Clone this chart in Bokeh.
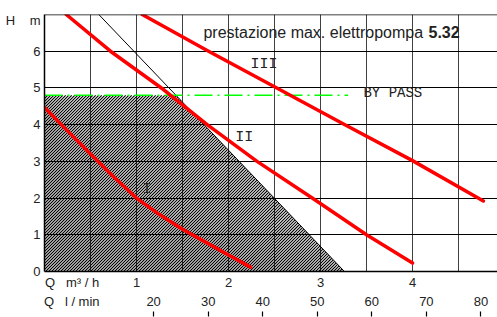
from bokeh.plotting import figure
from bokeh.models import Range1d, LinearAxis, FixedTicker, Label, Span, CustomLabelingPolicy
from bokeh.embed import file_html
from bokeh.resources import INLINE

# ---- data (Q in m3/h, H in m) ----
q_curve_I = [0.0, 0.25, 0.5, 0.75, 1.0, 1.25, 1.5, 1.75, 2.0, 2.24]
h_curve_I = [4.47, 3.83, 3.2, 2.58, 2.0, 1.55, 1.15, 0.8, 0.45, 0.12]

q_curve_II = [0.236, 0.717, 1.297, 1.768, 2.31, 2.91, 3.5, 4.0]
h_curve_II = [7.0, 6.0, 4.95, 4.0, 3.0, 2.0, 1.0, 0.23]

q_curve_III = [1.062, 1.768, 2.51, 3.24, 4.0, 4.77]
h_curve_III = [7.0, 6.02, 5.02, 4.03, 3.02, 1.92]

q_limit = [0.59, 3.26]
h_limit = [7.0, 0.0]

q_area = [0.0, 0.0, 1.429, 3.26]
h_area = [0.0, 4.8, 4.8, 0.0]

q_bypass = [0.0, 3.30]
h_bypass = [4.8, 4.8]

y_ticks = [0, 1, 2, 3, 4, 5, 6]
x_ticks = [1, 2, 3, 4]
lmin_ticks = [20, 30, 40, 50, 60, 70, 80]
m3h_per_lmin = 0.0593

NB = "\u00a0"
y_title = "H" + NB * 4 + "m"
x_title_m3h = "Q" + NB * 3 + "m³" + NB + "/" + NB + "h"
x_title_lmin = "Q" + NB * 3 + "l" + NB + "/" + NB + "min"

W, H = 497, 317
LEFT, TOP, BOTTOM = 44, 14, 46
X_END = 4.924
Y_END = 7.0
# label anchor positions (layout)
Y_TITLE_POS = 6.85
X_TITLE_POS = 0.30
LMIN_TITLE_POS = 5.0

p = figure(width=W, height=H, x_range=Range1d(0, X_END), y_range=Range1d(0, Y_END),
           output_backend="svg", toolbar_location=None,
           min_border_left=LEFT, min_border_top=TOP, min_border_right=0,
           min_border_bottom=BOTTOM)
p.outline_line_color = None
p.background_fill_color = "white"
p.border_fill_color = "white"

# grid
p.xgrid.ticker = FixedTicker(ticks=[0.5, 1, 1.5, 2, 2.5, 3, 3.5, 4, 4.5])
p.xgrid.grid_line_color = "#404040"
p.xgrid.grid_line_width = 1
p.ygrid.ticker = FixedTicker(ticks=[1, 2, 3, 4, 5, 6])
p.ygrid.grid_line_color = "black"
p.ygrid.grid_line_width = 1

p.add_layout(Span(location=Y_END, dimension="width", line_color="black", line_width=1.5))

# y axis
p.yaxis.ticker = FixedTicker(ticks=y_ticks + [Y_TITLE_POS])
p.yaxis.major_label_overrides = {Y_TITLE_POS: y_title}
p.yaxis.axis_line_color = "black"
p.yaxis.axis_line_width = 1.5
p.yaxis.major_tick_line_color = None
p.yaxis.minor_tick_line_color = None
p.yaxis.major_tick_out = 0
p.yaxis.minor_tick_out = 0
p.yaxis.major_label_standoff = 4
p.yaxis.major_label_text_font = "Liberation Sans"
p.yaxis.major_label_text_font_size = "13px"
p.yaxis.major_label_text_color = "#222222"

# primary x axis (m3/h)
p.xaxis.ticker = FixedTicker(ticks=[X_TITLE_POS] + x_ticks)
p.xaxis.major_label_overrides = {X_TITLE_POS: x_title_m3h}
p.xaxis.axis_line_color = "black"
p.xaxis.axis_line_width = 1.5
p.xaxis.major_tick_line_color = None
p.xaxis.minor_tick_line_color = None
p.xaxis.major_tick_out = 0
p.xaxis.minor_tick_out = 0
p.xaxis.major_label_standoff = 3
p.xaxis.major_label_text_font = "Liberation Sans"
p.xaxis.major_label_text_font_size = "13px"
p.xaxis.major_label_text_color = "#222222"

# secondary x axis (l/min): labels
p.extra_x_ranges = {"lmin": Range1d(0, X_END / m3h_per_lmin)}
ax_b = LinearAxis(x_range_name="lmin", ticker=FixedTicker(ticks=[LMIN_TITLE_POS] + lmin_ticks),
                  major_label_overrides={LMIN_TITLE_POS: x_title_lmin},
                  axis_line_color=None, major_tick_line_color=None, minor_tick_line_color=None,
                  major_tick_out=0, minor_tick_out=0,
                  major_label_standoff=1, major_label_text_font="Liberation Sans",
                  major_label_text_font_size="13px", major_label_text_color="#222222")
p.add_layout(ax_b, "below")
# secondary x axis: tick marks only (labels suppressed by policy)
hide_all = CustomLabelingPolicy(code="return []")
ax_c = LinearAxis(x_range_name="lmin", ticker=FixedTicker(ticks=lmin_ticks),
                  axis_line_color=None, major_tick_out=5, major_tick_in=0, minor_tick_out=0,
                  major_tick_line_color="black", major_tick_line_width=1.2,
                  minor_tick_line_color=None,
                  major_label_standoff=0, major_label_text_font_size="0px",
                  major_label_policy=hide_all)
p.add_layout(ax_c, "below")

# hatched area: 45-degree lines (in screen space) clipped to the area polygon
fw, fh = W - LEFT, H - TOP - BOTTOM
sx, sy = fw / X_END, fh / Y_END
poly = [(q * sx, h * sy) for q, h in zip(q_area, h_area)]
hx, hy = [], []
c = -fh
while c < fw:
    pts = []
    n = len(poly)
    for i in range(n):
        (u1, v1), (u2, v2) = poly[i], poly[(i + 1) % n]
        f1, f2 = v1 - u1 + c, v2 - u2 + c
        if (f1 <= 0 <= f2 or f2 <= 0 <= f1) and f1 != f2:
            t = f1 / (f1 - f2)
            pts.append((u1 + t * (u2 - u1), v1 + t * (v2 - v1)))
    if len(pts) >= 2:
        a, b = min(pts), max(pts)
        if b[0] - a[0] > 0.5:
            hx.append([a[0] / sx, b[0] / sx])
            hy.append([a[1] / sy, b[1] / sy])
    c += 3
p.multi_line(hx, hy, line_color="black", line_width=1.1)
p.line(q_limit, h_limit, line_color="black", line_width=1)

# bypass line
p.line(q_bypass, h_bypass, line_color="#00ff00", line_width=1.5, line_dash="18 5 2 5")

# curves
for qs, hs in [(q_curve_I, h_curve_I), (q_curve_II, h_curve_II), (q_curve_III, h_curve_III)]:
    p.line(qs, hs, line_color="#ff0000", line_width=3.5, line_cap="round", line_join="round")

mono = "Liberation Mono"
def lab(x, y, text, **kw):
    p.add_layout(Label(x=x, y=y, text=text, **kw))

lab(2.386, 5.63, "III", text_font=mono, text_font_size="15px", text_align="center",
    text_baseline="middle", text_color="#222222")
lab(2.17, 3.66, "II", text_font=mono, text_font_size="15px", text_align="center",
    text_baseline="middle", text_color="#222222")
lab(1.114, 2.23, "I", text_font=mono, text_font_size="15px", text_align="center",
    text_baseline="middle", text_color="#222222")
lab(3.467, 4.85, "BY" + NB + "PASS", text_font=mono, text_font_size="14px", text_align="left",
    text_baseline="middle", text_color="#222222")

lab(1.728, 6.51, "prestazione max. elettropompa", text_font="Liberation Sans",
    text_font_size="16px", text_align="left", text_baseline="middle", text_color="#222222")
lab(4.174, 6.51, "5.32", text_font="Liberation Sans", text_font_style="bold",
    text_font_size="16px", text_align="left", text_baseline="middle", text_color="#222222")

open("out.html", "w").write(file_html(p, INLINE))
